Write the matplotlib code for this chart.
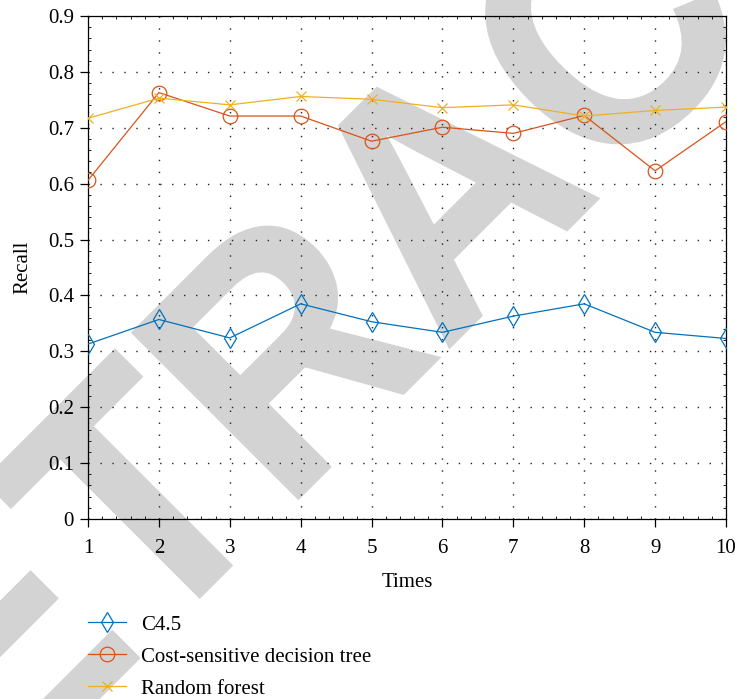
import matplotlib
matplotlib.use("Agg")
import matplotlib.pyplot as plt
from matplotlib.ticker import MultipleLocator
from matplotlib.textpath import TextPath
from matplotlib.font_manager import FontProperties
from matplotlib.patches import PathPatch
from matplotlib.transforms import Affine2D
import numpy as np

times = [1, 2, 3, 4, 5, 6, 7, 8, 9, 10]
c45 = [0.313, 0.357, 0.324, 0.385, 0.353, 0.334, 0.363, 0.385, 0.334, 0.323]
cost_sensitive = [0.606, 0.763, 0.721, 0.721, 0.676, 0.701, 0.690, 0.722, 0.623, 0.711]
random_forest = [0.717, 0.753, 0.741, 0.756, 0.751, 0.736, 0.741, 0.721, 0.731, 0.737]

labels = ["C4.5", "Cost-sensitive decision tree", "Random forest"]
colors = ["#0072BD", "#D95319", "#EDB120"]
watermark = "RETRACTED"

plt.rcParams['font.family'] = ['Liberation Serif', 'DejaVu Serif']

W, H = 735, 699
fig = plt.figure(figsize=(W / 100, H / 100), dpi=100)
fig.patch.set_facecolor('white')
ax = fig.add_axes([88/W, 1-519/H, (726-88)/W, (519-16)/H])
ax.patch.set_facecolor('none')

# watermark built as a path (condensed bold sans), rotated 45 degrees
fp = FontProperties(family='Liberation Sans', weight='bold')
tp = TextPath((0, 0), watermark, size=1, prop=fp)
ext_a = TextPath((0, 0), 'A', size=1, prop=fp).get_extents()
ext_pre = TextPath((0, 0), watermark[:5], size=1, prop=fp).get_extents()
cx = ext_pre.x1 - ext_a.width / 2
cy = (ext_a.y0 + ext_a.y1) / 2
cap = ext_a.height
E = 235 / cap
sx = 0.92
tr = (Affine2D().translate(-cx, -cy).scale(E * sx, E).rotate_deg(45)
      .translate(441, H - 190))
wm = PathPatch(tp, transform=tr, facecolor='#d3d3d3', edgecolor='#d3d3d3',
               linewidth=1.5, zorder=-1)
fig.add_artist(wm)
wm.set_zorder(-1)

lw = 0.9
ax.plot(times, c45, color=colors[0], lw=lw, marker='d', ms=10.2, mfc='none',
        mec=colors[0], mew=0.9, label=labels[0], zorder=3)
ax.plot(times, cost_sensitive, color=colors[1], lw=lw, marker='o', ms=10.5, mfc='none',
        mec=colors[1], mew=0.9, label=labels[1], zorder=3)
ax.plot(times, random_forest, color=colors[2], lw=lw, marker='x', ms=6.5,
        mec=colors[2], mew=0.9, label=labels[2], zorder=3)

ax.set_xlim(1, 10)
ax.set_ylim(0, 0.9)
ax.xaxis.set_major_locator(MultipleLocator(1))
ax.xaxis.set_minor_locator(MultipleLocator(0.2))
ax.yaxis.set_minor_locator(MultipleLocator(0.02))
ax.set_yticks(np.arange(0, 0.91, 0.1))
ax.set_yticklabels(['0'] + [f'{v:.1f}' for v in np.arange(0.1, 0.91, 0.1)])

ax.grid(True, which='major', color='#222222', linestyle=(0, (1, 7.6)), linewidth=1.0)
ax.tick_params(which='major', direction='out', length=5.5, width=0.9,
               top=False, right=False, labelsize=15)
ax.tick_params(axis='x', which='major', pad=9)
ax.tick_params(axis='y', which='major', pad=4.5)
ax.tick_params(which='minor', direction='in', length=2.5, width=0.6,
               top=True, right=True, bottom=True, left=True)
for s in ax.spines.values():
    s.set_linewidth(0.9)

ax.set_xlabel('Times', fontsize=15, labelpad=11)
ax.set_ylabel('Recall', fontsize=15, labelpad=11)

fig.legend(loc='upper left', bbox_to_anchor=(88/W, 1-615/H), frameon=False,
           fontsize=15, handlelength=1.8, handletextpad=0.75, labelspacing=0.6,
           borderaxespad=0, borderpad=0)

fig.savefig('out.png', dpi=100, facecolor='white')
